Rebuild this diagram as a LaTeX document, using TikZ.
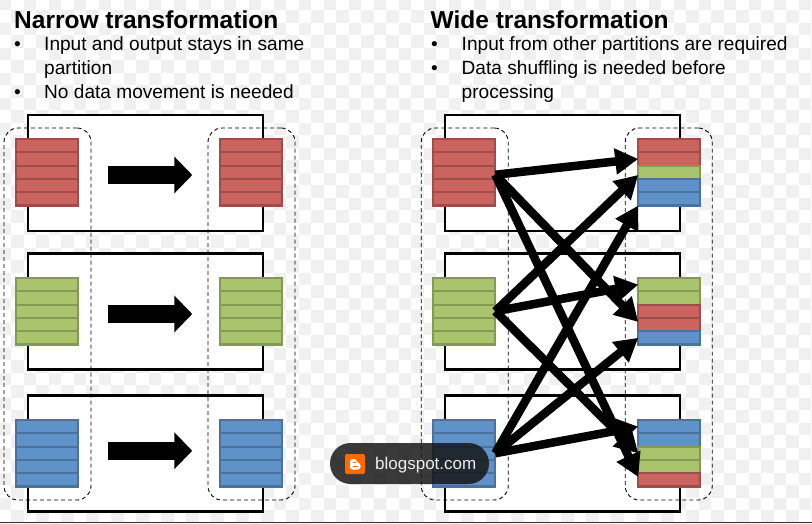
\documentclass[tikz,border=0pt]{standalone}
\usepackage{fontspec}
\setmainfont{Liberation Sans}
\usepackage{xcolor}
\usepackage{tikz}
\usetikzlibrary{arrows.meta,positioning}

\definecolor{partred}{HTML}{CB645F}
\definecolor{partgreen}{HTML}{A9C46C}
\definecolor{partblue}{HTML}{5F92C8}
\definecolor{checkgrey}{HTML}{F0F0F0}
\definecolor{pillgrey}{HTML}{151515}
\definecolor{bloggerorange}{HTML}{FF6A00}

\newcommand{\partrows}[2]{%
  \foreach \col [count=\i] in {#2} {
    \node[part row,draw=\col!78!black,fill=\col] (#1-\i) at ([yshift={-(\i-0.5)*13.3pt}]#1.north) {};
  }%
}

\begin{document}
\begin{tikzpicture}[x=1pt,y=-1pt,
  frame box/.style={draw=black,fill=white,line width=2.8pt,minimum width=235pt,minimum height=116pt,inner sep=0pt,outer sep=0pt},
  dash box/.style={draw=black,dashed,dash pattern=on 4pt off 3pt,line width=0.9pt,rounded corners=14pt,minimum width=87pt,minimum height=372pt,inner sep=0pt,outer sep=0pt},
  part box/.style={minimum width=62pt,minimum height=66.5pt,inner sep=0pt,outer sep=0pt},
  part row/.style={line width=2.2pt,minimum width=62pt,minimum height=13.3pt,inner sep=0pt,outer sep=0pt},
  block arrow/.style={line width=18pt,-{Triangle[length=18pt,width=36pt]}},
  flow/.style={line width=8.5pt,-{Triangle[length=23pt,width=25pt]}},
  title text/.style={anchor=base west,inner sep=0pt,font=\fontsize{24.5}{28}\selectfont\bfseries},
  body text/.style={anchor=base west,inner sep=0pt,font=\fontsize{19.1}{23}\selectfont}]

  \useasboundingbox (0,0) rectangle (812,523);
  \fill[white] (0,0) rectangle (812,523);

  \begin{scope}
    \clip (0,0) rectangle (812,523);
    \foreach \i in {-1,...,64} {
      \foreach \j in {-1,...,41} {
        \pgfmathparse{int(mod(\i+\j+2,2))}
        \ifnum\pgfmathresult=0
          \fill[checkgrey] (11+\i*12.5,10+\j*12.5) rectangle +(12.5,12.5);
        \fi
      }
    }
  \end{scope}
  \fill[black!80] (0,521.6) rectangle (812,523);

  % narrow side
  \node[frame box] (nf1) at (145.5,173) {};
  \node[frame box] (nf2) [below=22.5pt of nf1] {};
  \node[frame box] (nf3) [below=26.2pt of nf2] {};

  \node[dash box] (nd1) at (47.5,314) {};
  \node[dash box] (nd2) [right=117pt of nd1] {};

  \node[part box] (np1) at (47.25,172.25) {};
  \node[part box] (np2) [below=72.5pt of np1] {};
  \node[part box] (np3) [below=75.5pt of np2] {};
  \node[part box] (nq1) [right=142pt of np1] {};
  \node[part box] (nq2) [right=142pt of np2] {};
  \node[part box] (nq3) [right=142pt of np3] {};

  \partrows{np1}{partred,partred,partred,partred,partred}
  \partrows{np2}{partgreen,partgreen,partgreen,partgreen,partgreen}
  \partrows{np3}{partblue,partblue,partblue,partblue,partblue}
  \partrows{nq1}{partred,partred,partred,partred,partred}
  \partrows{nq2}{partgreen,partgreen,partgreen,partgreen,partgreen}
  \partrows{nq3}{partblue,partblue,partblue,partblue,partblue}

  \draw[block arrow,shorten <=29.5pt,shorten >=28pt] ([yshift=-2.75pt]np1.east) -- ([yshift=-2.75pt]nq1.west);
  \draw[block arrow,shorten <=29.5pt,shorten >=28pt] ([yshift=-2.75pt]np2.east) -- ([yshift=-2.75pt]nq2.west);
  \draw[block arrow,shorten <=29.5pt,shorten >=28pt] ([yshift=2.5pt]np3.east) -- ([yshift=2.5pt]nq3.west);

  % wide side
  \node[frame box] (wf1) at (562.5,173) {};
  \node[frame box] (wf2) [below=22.5pt of wf1] {};
  \node[frame box] (wf3) [below=26.2pt of wf2] {};

  \node[dash box] (wd1) at (464.75,314) {};
  \node[dash box] (wd2) [right=117pt of wd1] {};

  \node[part box] (wp1) at (464.25,172.25) {};
  \node[part box] (wp2) [below=72.5pt of wp1] {};
  \node[part box] (wp3) [below=75.5pt of wp2] {};
  \node[part box] (wq1) [right=143pt of wp1] {};
  \node[part box] (wq2) [right=143pt of wp2] {};
  \node[part box] (wq3) [right=143pt of wp3] {};

  \partrows{wp1}{partred,partred,partred,partred,partred}
  \partrows{wp2}{partgreen,partgreen,partgreen,partgreen,partgreen}
  \partrows{wp3}{partblue,partblue,partblue,partblue,partblue}
  \partrows{wq1}{partred,partred,partgreen,partblue,partblue}
  \partrows{wq2}{partgreen,partgreen,partred,partred,partblue}
  \partrows{wq3}{partblue,partblue,partgreen,partgreen,partred}

  \draw[flow] ([yshift=-2.5pt]wp1.east) -- (wq1-2.west);
  \draw[flow] ([yshift=-2.5pt]wp1.east) -- ([yshift=2.6pt]wq2-4.west);
  \draw[flow] ([yshift=-2.5pt]wp1.east) -- ([yshift=2.9pt]wq3-5.west);
  \draw[flow] (wp2.east) -- ([yshift=-2.7pt]wq1-3.west);
  \draw[flow] (wp2.east) -- (wq2-1.west);
  \draw[flow] (wp2.east) -- (wq3-3.west);
  \draw[flow] (wp3.east) -- (wq1-5.south west);
  \draw[flow] (wp3.east) -- (wq2-5.west);
  \draw[flow] (wp3.east) -- (wq3-1.west);

  % headings
  \node[title text] (ntitle) at (14,28) {Narrow transformation};
  \node[body text] (nb1) at (14,50.5) {•};
  \node[body text] (nl1) at (44,50.5) {Input and output stays in same};
  \node[body text] (nl2) at (44,74.5) {partition};
  \node[body text] (nb2) at (14,98) {•};
  \node[body text] (nl3) at (44,98) {No data movement is needed};

  \node[title text] (wtitle) at (430.5,28) {Wide transformation};
  \node[body text] (wb1) at (431,50.5) {•};
  \node[body text] (wl1) at (461.5,50.5) {Input from other partitions are required};
  \node[body text] (wb2) at (431,74.5) {•};
  \node[body text] (wl2) at (461.5,74.5) {Data shuffling is needed before};
  \node[body text] (wl3) at (461.5,98) {processing};

  % badge
  \node[fill=pillgrey,fill opacity=0.84,rounded corners=20.5pt,minimum width=159pt,minimum height=41pt,inner sep=0pt,outer sep=0pt] (pill) at (409.5,463.5) {};
  \node[fill=bloggerorange,rounded corners=2pt,minimum size=20pt,inner sep=0pt,outer sep=0pt] (blogicon) at (355,464) {};
  \fill[white,rounded corners=2.5pt] (350,459) -- (356.5,459) -- (356.5,463) -- (360.5,463) -- (360.5,469.5) -- (350,469.5) -- cycle;
  \fill[bloggerorange] (352.5,461.5) rectangle (355.5,463);
  \fill[bloggerorange] (352.5,465.5) rectangle (358,467);
  \node[anchor=base west,inner sep=0pt,text=white!93!black,font=\fontsize{17}{20}\selectfont] (blogtext) at (375,469.5) {blogspot.com};
\end{tikzpicture}
\end{document}
